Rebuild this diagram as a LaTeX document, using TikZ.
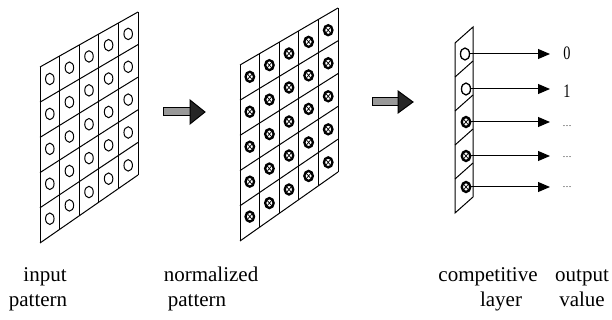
\documentclass[tikz,border=0pt]{standalone}
\usepackage{fontspec}
\setmainfont{Liberation Serif}
\usetikzlibrary{calc,arrows.meta,shapes.geometric}

% draws a 5x5 slanted grid between four corner coordinates
\newcommand{\slantgrid}[4]{%
  \foreach \k in {0,...,5}{%
    \pgfmathsetmacro{\f}{\k/5}%
    \draw[gridline] ($(#1)!\f!(#2)$) -- ($(#4)!\f!(#3)$);
    \draw[gridline] ($(#1)!\f!(#4)$) -- ($(#2)!\f!(#3)$);
  }%
}

\begin{document}
\begin{tikzpicture}[x=1pt,y=-1pt,
  gridline/.style={line width=1pt},
  incell/.style={ellipse, draw, line width=1pt, minimum width=8.5pt,
    minimum height=11.5pt, inner sep=0pt},
  normcell/.style={ellipse, draw, line width=2.3pt, minimum width=8.5pt,
    minimum height=10pt, inner sep=0pt,
    path picture={\draw[line width=0.7pt]
      (path picture bounding box.south west) -- (path picture bounding box.north east)
      (path picture bounding box.north west) -- (path picture bounding box.south east);}},
  hollowcell/.style={ellipse, draw, line width=1.3pt, minimum width=9pt,
    minimum height=12pt, inner sep=0pt},
  outarrow/.style={line width=1pt, -{Triangle[length=12pt,width=10pt]}},
  blockbody/.style={draw, line width=1pt, fill=black!40},
  blockhead/.style={draw, line width=1pt, fill=black!85},
  caption/.style={font=\fontsize{21}{24}\selectfont, inner sep=0pt, anchor=base},
  digit/.style={font=\fontsize{19}{19}\selectfont, inner sep=0pt}
]
\useasboundingbox (0,0) rectangle (612,320);

% ---- input pattern ----
\coordinate (aTL) at (40,67);
\coordinate (aTR) at (138,12);
\coordinate (aBR) at (138,175);
\coordinate (aBL) at (40,243);
\slantgrid{aTL}{aTR}{aBR}{aBL}
\foreach \i in {0,...,4}{
  \foreach \j in {0,...,4}{
    \pgfmathsetmacro{\a}{(\i+0.5)/5}
    \pgfmathsetmacro{\b}{(\j+0.5)/5}
    \coordinate (u) at ($(aTL)!\a!(aTR)$);
    \coordinate (w) at ($(aBL)!\a!(aBR)$);
    \node[incell] (in-\i-\j) at ($(u)!\b!(w)$) {};
  }
}

% ---- normalized pattern ----
\coordinate (bTL) at (240,65);
\coordinate (bTR) at (338,8);
\coordinate (bBR) at (338,172);
\coordinate (bBL) at (240,241);
\slantgrid{bTL}{bTR}{bBR}{bBL}
\foreach \i in {0,...,4}{
  \foreach \j in {0,...,4}{
    \pgfmathsetmacro{\a}{(\i+0.5)/5}
    \pgfmathsetmacro{\b}{(\j+0.5)/5}
    \coordinate (u) at ($(bTL)!\a!(bTR)$);
    \coordinate (w) at ($(bBL)!\a!(bBR)$);
    \node[normcell] (nm-\i-\j) at ($(u)!\b!(w)$) {};
  }
}

% ---- block arrows ----
\draw[blockbody] (163,108) rectangle (191,116);
\draw[blockhead] (190,100) -- (205,112) -- (190,124) -- cycle;
\draw[blockbody] (372,98) rectangle (399,106);
\draw[blockhead] (398,91) -- (413,102) -- (398,113) -- cycle;

% ---- competitive layer ----
\coordinate (cTL) at (455,43);
\coordinate (cTR) at (473,27);
\coordinate (cBR) at (473,197);
\coordinate (cBL) at (455,213);
\draw[gridline] (cTL) -- (cTR) -- (cBR) -- (cBL) -- cycle;
\foreach \k in {1,...,4}{
  \pgfmathsetmacro{\f}{\k/5}
  \draw[gridline] ($(cTR)!\f!(cBR)$) -- ($(cTL)!\f!(cBL)$);
}
\node[hollowcell] (c1) at (465,54) {};
\node[hollowcell] (c2) at (466,89) {};
\node[normcell]   (c3) at (466,122) {};
\node[normcell]   (c4) at (466,156) {};
\node[normcell]   (c5) at (466,187) {};

\coordinate (t1) at (550,54);
\coordinate (t2) at (550,89);
\coordinate (t3) at (550,122);
\coordinate (t4) at (550,156);
\coordinate (t5) at (550,187);
\foreach \k in {1,...,5}{
  \draw[outarrow] (c\k.east) -- (t\k);
}

% ---- output values ----
\node[digit] (o1) at (567,53) {\scalebox{0.75}[1]{0}};
\node[digit] (o2) at (567,91) {\scalebox{0.75}[1]{1}};
\node[font=\fontsize{9}{9}\selectfont, inner sep=0pt] (o3) at (567,126) {\ldots};
\node[font=\fontsize{9}{9}\selectfont, inner sep=0pt] (o4) at (567,157) {\ldots};
\node[font=\fontsize{9}{9}\selectfont, inner sep=0pt] (o5) at (567,187) {\ldots};

% ---- captions ----
\node[caption] (l1a) at (45,281) {input};
\node[caption] (l1b) at (38,306) {pattern};
\node[caption] (l2a) at (211,281) {normalized};
\node[caption] (l2b) at (197,306) {pattern};
\node[caption] (l3a) at (488,281) {competitive};
\node[caption] (l3b) at (501,306) {layer};
\node[caption] (l4a) at (582,281) {output};
\node[caption] (l4b) at (582,306) {value};
\end{tikzpicture}
\end{document}
